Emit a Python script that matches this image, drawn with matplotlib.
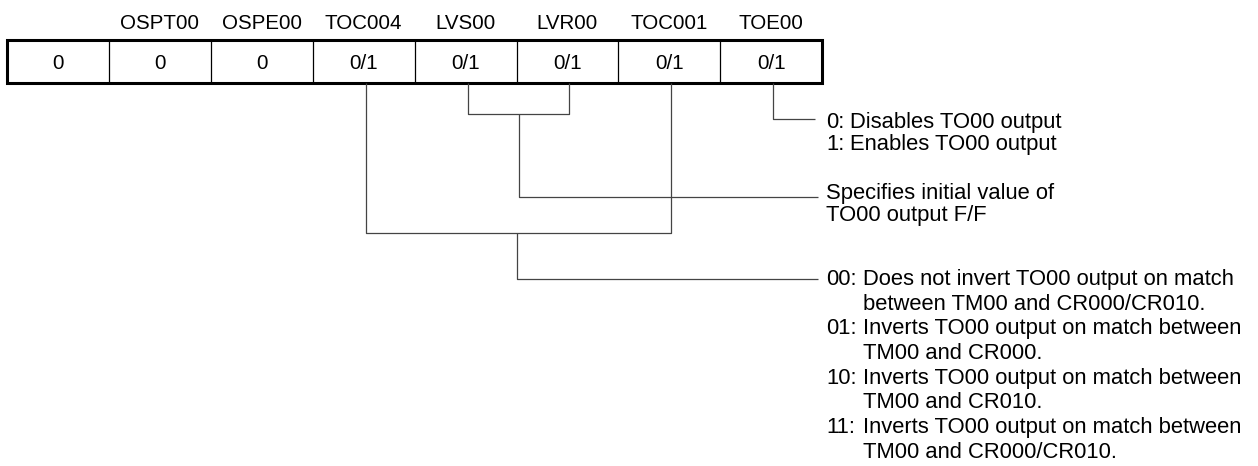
import matplotlib.pyplot as plt

# Register bits (bit 7 .. bit 0)
bit_names = ["", "OSPT00", "OSPE00", "TOC004", "LVS00", "LVR00", "TOC001", "TOE00"]
bit_values = ["0", "0", "0", "0/1", "0/1", "0/1", "0/1", "0/1"]

toe_desc = [("0:", "Disables TO00 output"), ("1:", "Enables TO00 output")]
lv_desc = ["Specifies initial value of", "TO00 output F/F"]
toc_desc = [
    ("00:", "Does not invert TO00 output on match"),
    ("", "between TM00 and CR000/CR010."),
    ("01:", "Inverts TO00 output on match between"),
    ("", "TM00 and CR000."),
    ("10:", "Inverts TO00 output on match between"),
    ("", "TM00 and CR010."),
    ("11:", "Inverts TO00 output on match between"),
    ("", "TM00 and CR000/CR010."),
]

FONT = "Liberation Sans"
FS = 14.8      # bit names / values
FS_D = 15.8    # description text
LINE_C = "#444444"

fig = plt.figure(figsize=(12.58, 4.66), dpi=100)
ax = fig.add_axes([0, 0, 1, 1])
ax.set_xlim(0, 1258)
ax.set_ylim(466, 0)
ax.axis("off")

# register box geometry (pixel units)
x0, cw = 7, 101.9
top, bot = 40, 83
n = len(bit_values)

def cx(i):
    return x0 + cw * (i + 0.5)

for i in range(1, n):
    ax.plot([x0 + cw * i] * 2, [top, bot], color="black", lw=0.9)
ax.add_patch(plt.Rectangle((x0, top), cw * n, bot - top, fill=False,
                           edgecolor="black", lw=2.2))
for i, (name, val) in enumerate(zip(bit_names, bit_values)):
    ax.text(cx(i), 29, name, ha="center", va="baseline", fontsize=FS, family=FONT)
    ax.text(cx(i), 69, val, ha="center", va="baseline", fontsize=FS, family=FONT)

def tap(i):
    return cx(i) + 2

line_end = 818
code_x = 826
half_cap = 7.8

def seg(xs, ys):
    ax.plot(xs, ys, color=LINE_C, lw=0.9, solid_capstyle="butt")

def txt(x, y, s):
    # y is the visual centre of the capitals
    ax.text(x, y + half_cap, s, va="baseline", fontsize=FS_D, family=FONT)

# TOE00
idx = bit_names.index("TOE00")
y_toe = 119
seg([tap(idx), tap(idx), 815], [bot, y_toe, y_toe])
for k, (code, s) in enumerate(toe_desc):
    txt(code_x, 120 + k * 22, code)
    txt(850, 120 + k * 22, s)

# LVS00 / LVR00
a, b = bit_names.index("LVS00"), bit_names.index("LVR00")
y_br, y_lv = 114, 197
seg([tap(a), tap(a), tap(b), tap(b)], [bot, y_br, y_br, bot])
mid = (tap(a) + tap(b)) / 2
seg([mid, mid, line_end], [y_br, y_lv, y_lv])
for k, s in enumerate(lv_desc):
    txt(code_x, 191 + k * 22, s)

# TOC004 / TOC001
a, b = bit_names.index("TOC004"), bit_names.index("TOC001")
y_br, y_toc = 233, 279
seg([tap(a), tap(a), tap(b), tap(b)], [bot, y_br, y_br, bot])
mid = 517
seg([mid, mid, line_end], [y_br, y_toc, y_toc])
for k, (code, s) in enumerate(toc_desc):
    y = 277 + k * 24.7
    if code:
        txt(code_x, y, code)
    txt(863, y, s)

fig.savefig("out.png", dpi=100, facecolor="white")
